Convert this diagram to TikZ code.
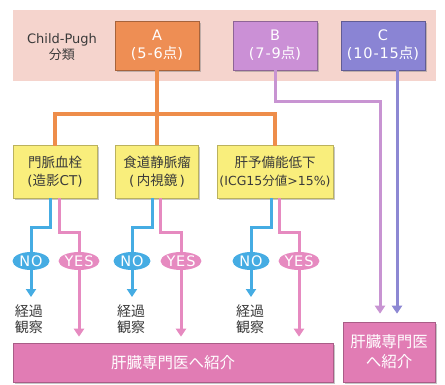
\documentclass[tikz,border=0pt]{standalone}
\usepackage{fontspec}
\newfontfamily\jp{Noto Sans CJK JP}
\newfontfamily\lt{DejaVu Sans}
\newfontfamily\ltw[LetterSpace=6]{DejaVu Sans}
\usetikzlibrary{shapes.geometric,arrows.meta,shadows,calc}
\definecolor{bandbg}{HTML}{F5D4CD}
\definecolor{gA}{HTML}{EE8E54}
\definecolor{gB}{HTML}{CB90D6}
\definecolor{gC}{HTML}{8A84D4}
\definecolor{lnA}{HTML}{EE8D4A}
\definecolor{lnB}{HTML}{C894D2}
\definecolor{lnC}{HTML}{8D88D3}
\definecolor{ylw}{HTML}{F9EE7C}
\definecolor{noblue}{HTML}{45ACE3}
\definecolor{yespink}{HTML}{E68AC0}
\definecolor{refpink}{HTML}{E17CB4}
\definecolor{txt}{HTML}{3A3A3A}
\begin{document}
\begin{tikzpicture}[x=1pt,y=-1pt,
  font={\lt\fontsize{13}{16}\selectfont},
  shd/.style={drop shadow={opacity=0.45,shadow xshift=1.5pt,shadow yshift=-1.5pt}},
  grade/.style={draw=#1!70!black,fill=#1,line width=0.6pt,minimum width=84pt,minimum height=49pt,inner sep=0pt,align=center,text=white,shd,font={\ltw\fontsize{14.5}{18}\selectfont}},
  check/.style={draw=ylw!75!black,fill=ylw,line width=0.6pt,minimum height=53pt,inner sep=0pt,align=center,text=txt,shd,font={\lt\fontsize{13.5}{18}\selectfont}},
  noel/.style={ellipse,fill=noblue,minimum width=37pt,minimum height=18pt,inner sep=0pt,text=white,font={\ltw\fontsize{14.5}{14}\selectfont}},
  yesel/.style={ellipse,fill=yespink,minimum width=39pt,minimum height=18pt,inner sep=0pt,text=white,font={\ltw\fontsize{14.5}{14}\selectfont}},
  refbox/.style={draw=refpink!75!black,fill=refpink,line width=0.6pt,inner sep=0pt,align=center,text=white,font={\jp\fontsize{15.5}{20}\selectfont},shd},
  obs/.style={align=center,text=txt,font={\jp\fontsize{14}{16}\selectfont},inner sep=0pt},
  tip/.style={-{Triangle[width=10pt,length=8pt]}},
  aline/.style={draw=lnA,line width=3.2pt},
  bline/.style={draw=lnB,line width=3pt},
  cline/.style={draw=lnC,line width=3pt},
  noline/.style={draw=noblue,line width=3pt},
  yesline/.style={draw=yespink,line width=3pt}
]
\useasboundingbox (0,0) rectangle (445,384);
% band
\node[fill=bandbg,minimum width=423pt,minimum height=71pt,inner sep=0pt] (band) at (224.5,45.5) {};
\node[align=center,text=txt,inner sep=0pt] (cp) at (62,47) {Child-Pugh\\{\jp 分類}};
\node[grade=gA] (A) at (157,45.5) {A\\({5-6}{\jp 点})};
\node[grade=gB] (B) at (275,45.5) {B\\({7-9}{\jp 点})};
\node[grade=gC] (C) at (383,45.5) {C\\({10-15}{\jp 点})};
% check boxes
\node[check,minimum width=84pt] (k1) at (55,171.5) {{\jp 門脈血栓}\\({\jp 造影}CT)};
\node[check,minimum width=83pt] (k2) at (157,171.5) {{\jp 食道静脈瘤}\\(\,{\jp 内視鏡}\,)};
\node[check,minimum width=116pt] (k3) at (275,171.5) {{\jp 肝予備能低下}\\{\fontsize{12.5}{16}\selectfont(ICG15{\jp 分値}>15\%)}};
% ellipses
\node[noel] (n1) at (31,261) {NO};
\node[yesel] (y1) at (79,261) {YES};
\node[noel] (n2) at (132,261) {NO};
\node[yesel] (y2) at (181,261) {YES};
\node[noel] (n3) at (251,261) {NO};
\node[yesel] (y3) at (299,261) {YES};
% observation
\node[obs] (o1) at (29,319.5) {経過\\観察};
\node[obs] (o2) at (131,319.5) {経過\\観察};
\node[obs] (o3) at (250,319.5) {経過\\観察};
% referral boxes
\node[refbox,minimum width=320pt,minimum height=39pt] (big) at (173,362.5) {肝臓専門医へ紹介};
\node[refbox,minimum width=92pt,minimum height=60pt] (right) at (389,352) {肝臓専門医\\へ紹介};
% coordinates
\coordinate (jA) at (157,114);
\coordinate (bturn) at (380,101);
\coordinate (cx) at (397,0);
\coordinate (nrow) at (0,297);
% orange tree
\draw[aline] (A.south) -- (jA);
\draw[aline,line cap=rect] (k1.north) |- (jA) -| (k3.north);
\draw[aline] (jA) -- (k2.north);
% B and C
\draw[bline,tip,shorten >=8pt] (B.south) |- (bturn) -- (bturn |- right.north);
\draw[cline,tip,shorten >=8pt] (cx |- C.south) -- (cx |- right.north);
% branches
\foreach \k/\n/\y/\bo/\po in {k1/n1/y1/-5/4,k2/n2/y2/-5/3.5,k3/n3/y3/-4/4}{
  \draw[noline] ($(\k.south)+(\bo,0)$) -- ++(0,29) -| (\n.north);
  \draw[yesline] ($(\k.south)+(\po,0)$) -- ++(0,34) -| (\y.north);
  \draw[noline,tip] (\n.south) -- (\n.south |- nrow);
  \draw[yesline,tip,shorten >=6pt] (\y.south) -- (\y.south |- big.north);
}
\end{tikzpicture}
\end{document}
